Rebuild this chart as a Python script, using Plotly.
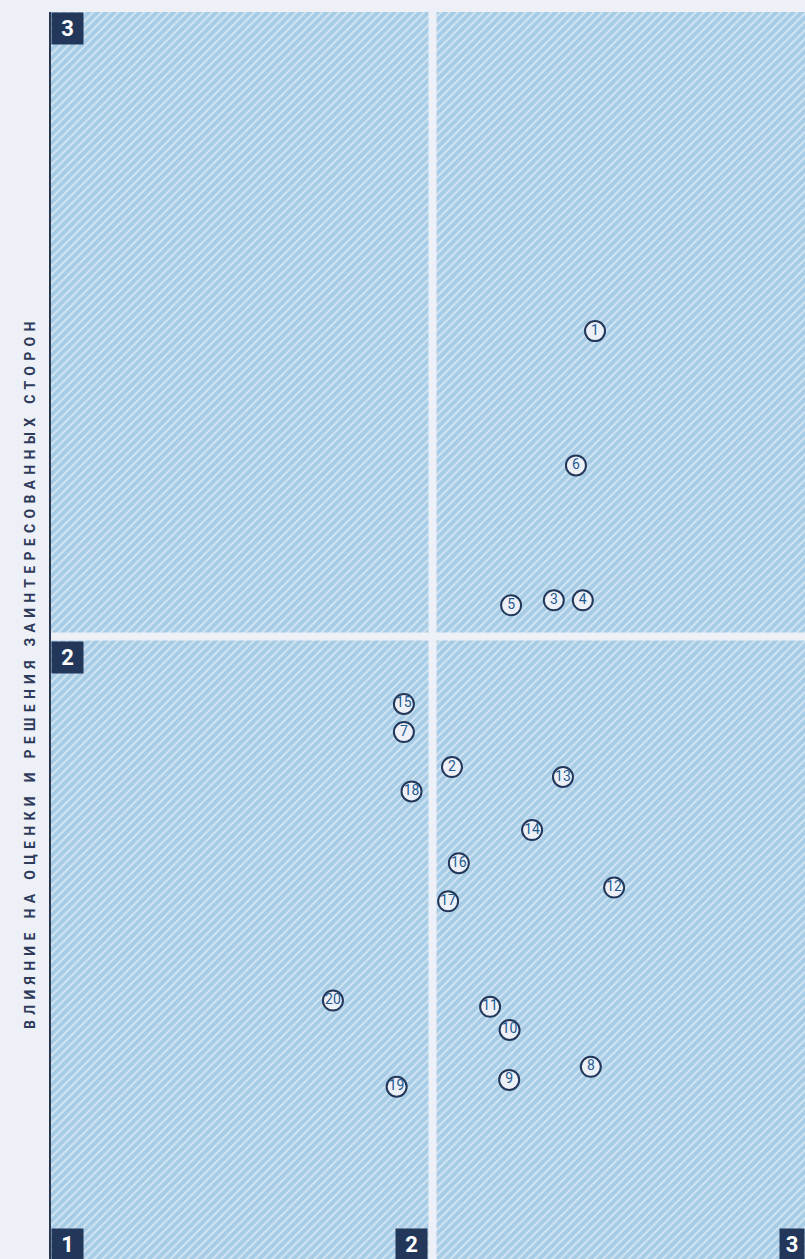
import plotly.graph_objects as go

# ---- data ----
labels = ["1", "2", "3", "4", "5", "6", "7", "8", "9", "10",
          "11", "12", "13", "14", "15", "16", "17", "18", "19", "20"]
x_vals = [2.426, 2.051, 2.318, 2.394, 2.206, 2.376, 1.925, 2.415, 2.201, 2.202,
          2.151, 2.476, 2.342, 2.261, 1.925, 2.069, 2.041, 1.945, 1.906, 1.739]
y_vals = [2.489, 1.791, 2.058, 2.058, 2.050, 2.274, 1.847, 1.311, 1.290, 1.370,
          1.407, 1.598, 1.775, 1.690, 1.892, 1.637, 1.576, 1.752, 1.279, 1.417]
axis_min, axis_mid, axis_max = 1, 2, 3
y_title = "ВЛИЯНИЕ НА ОЦЕНКИ И РЕШЕНИЯ ЗАИНТЕРЕСОВАННЫХ СТОРОН"

BG = "#eef0f8"
HATCH = "#a6cbe5"
NAVY = "#22375a"
NUM = "#1d5a8f"

fig = go.Figure()

# hatched field
fig.add_trace(go.Scatter(
    x=[axis_min, axis_max, axis_max, axis_min, axis_min],
    y=[axis_min, axis_min, axis_max, axis_max, axis_min],
    mode="lines", line=dict(width=0), fill="toself", fillcolor=HATCH,
    fillpattern=dict(shape="/", bgcolor=HATCH, fgcolor="white", size=6, solidity=0.33),
    hoverinfo="skip", showlegend=False))

# quadrant gaps
fig.add_trace(go.Scatter(x=[axis_mid, axis_mid], y=[axis_min - 1, axis_max + 1], mode="lines",
                         line=dict(color=BG, width=8), hoverinfo="skip", showlegend=False))
fig.add_trace(go.Scatter(x=[axis_min, axis_max + 1], y=[axis_mid, axis_mid], mode="lines",
                         line=dict(color=BG, width=8), hoverinfo="skip", showlegend=False))

# points
fig.add_trace(go.Scatter(
    x=x_vals, y=y_vals, mode="markers+text", text=labels, textposition="middle center",
    textfont=dict(family="Roboto", size=14, color=NUM),
    marker=dict(size=20, color=BG, line=dict(color=NAVY, width=2)),
    cliponaxis=False, showlegend=False, hoverinfo="skip"))

box = dict(showarrow=False, bgcolor=NAVY, borderpad=0, width=31, height=31,
           font=dict(family="Roboto", size=22, color="white"), align="center", valign="middle")

annotations = [
    dict(text="<b>3</b>", xref="paper", x=0, xanchor="left", yref="paper", y=1, yanchor="top", **box),
    dict(text="<b>2</b>", xref="paper", x=0, xanchor="left", yref="y", y=axis_mid, yanchor="top",
         yshift=-4.5, **box),
    dict(text="<b>1</b>", xref="paper", x=0, xanchor="left", yref="paper", y=0, yanchor="bottom",
         yshift=-2, **box),
    dict(text="<b>2</b>", xref="x", x=axis_mid, xanchor="right", xshift=-4.5, yref="paper", y=0,
         yanchor="bottom", yshift=-2, **box),
]
box_r = dict(box)
box_r["width"] = 24
annotations.append(dict(text="<b>3</b>", xref="paper", x=1, xanchor="right", yref="paper", y=0,
                        yanchor="bottom", yshift=-2, **box_r))
annotations.append(dict(text="<b>" + y_title + "</b>", xref="paper", x=-0.028, xanchor="center",
                        yref="paper", y=0.47, yanchor="middle", textangle=-90, showarrow=False,
                        font=dict(family="Roboto", size=14, color="#2f3b5a")))

fig.update_layout(
    width=805, height=1259,
    margin=dict(l=51, r=0, t=12, b=0),
    paper_bgcolor=BG, plot_bgcolor=BG,
    annotations=annotations,
    hovermode=False,
    xaxis=dict(range=[1, 2.9764], showgrid=False, zeroline=False, showticklabels=False,
               ticks="", showline=False),
    yaxis=dict(range=[1.0032, 3], showgrid=False, zeroline=False, showticklabels=False,
               ticks="", showline=True, linecolor="#2b3650", linewidth=1.5),
)

post = """
document.body.style.margin = '0';
document.body.style.background = '#eef0f8';
document.body.style.overflow = 'hidden';
document.querySelectorAll('.annotation-text').forEach(function(t){
  if (t.textContent.length > 10) { t.style.letterSpacing = '5.3px'; t.style.fontWeight = '700'; }
});
"""
fig.write_html("out.html", post_script=post, config={"displayModeBar": False})
